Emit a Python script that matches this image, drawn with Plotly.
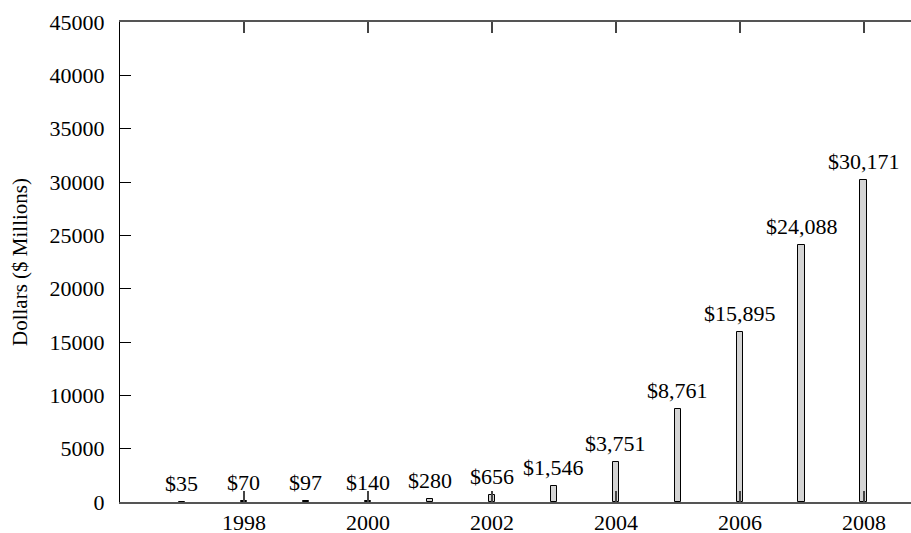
import plotly.graph_objects as go

years = [1997, 1998, 1999, 2000, 2001, 2002, 2003, 2004, 2005, 2006, 2007, 2008]
values = [35, 70, 97, 140, 280, 656, 1546, 3751, 8761, 15895, 24088, 30171]
x_ticks = [1998, 2000, 2002, 2004, 2006, 2008]
y_ticks = [0, 5000, 10000, 15000, 20000, 25000, 30000, 35000, 40000, 45000]
y_title = "Dollars ($ Millions)"

FONT = "Liberation Serif, Times New Roman, serif"

fig = go.Figure()
fig.add_trace(go.Bar(
    x=years, y=values, width=0.11,
    marker=dict(color="#d4d4d4", line=dict(color="black", width=1)),
    showlegend=False, hoverinfo="skip",
))

for yr, v in zip(years, values):
    fig.add_annotation(x=yr, y=v, text=f"${v:,}", showarrow=False,
                       yanchor="bottom", xanchor="center", yshift=4,
                       font=dict(family=FONT, size=22, color="black"))

fig.update_layout(
    width=911, height=533,
    margin=dict(l=120, r=0, t=22, b=31, autoexpand=False),
    paper_bgcolor="white", plot_bgcolor="white",
    font=dict(family=FONT, size=22, color="black"),
    xaxis=dict(range=[1996, 2008.76], tickmode="array", tickvals=x_ticks,
               ticks="inside", ticklen=11, tickcolor="#444", tickwidth=1.5,
               showline=True, linecolor="#555", linewidth=1.5, mirror="ticks",
               showgrid=False, zeroline=False, ticklabelstandoff=0,
               automargin=False, tickfont=dict(size=22)),
    yaxis=dict(range=[0, 45000], tickmode="array", tickvals=y_ticks,
               ticktext=[str(t) for t in y_ticks],
               ticks="inside", ticklen=11, tickcolor="black", tickwidth=1,
               showline=True, linecolor="black", linewidth=1, mirror=False,
               showgrid=False, zeroline=False, ticklabelstandoff=10,
               automargin=False, tickfont=dict(size=22),
               title=dict(text=y_title, font=dict(size=21), standoff=16)),
    bargap=0,
)

fig.write_html("out.html", config={"displayModeBar": False},
               post_script="document.body.style.margin='0';document.body.style.overflow='hidden';")
